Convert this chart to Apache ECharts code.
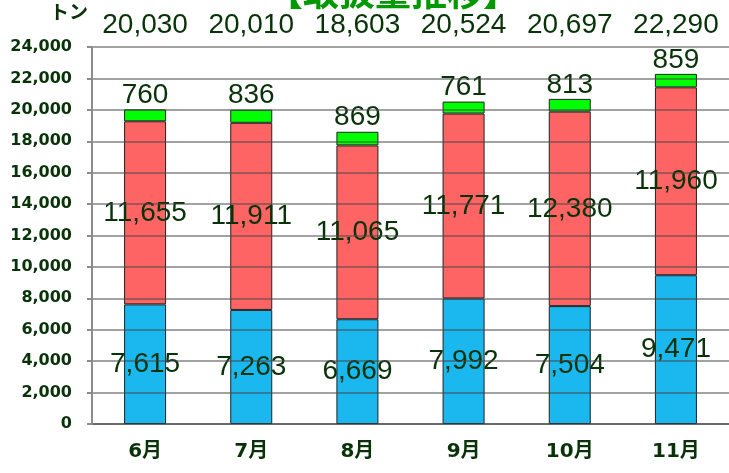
<!DOCTYPE html>
<html>
<head>
<meta charset="utf-8">
<script src="https://cdn.jsdelivr.net/npm/echarts@6/dist/echarts.min.js"></script>
<style>
  html, body { margin: 0; padding: 0; background: #fff; }
  #chart { width: 729px; height: 473px; }
</style>
</head>
<body>
<div id="chart"></div>
<script>
var months = ['6月', '7月', '8月', '9月', '10月', '11月'];
var blueVals = [7615, 7263, 6669, 7992, 7504, 9471];
var redVals = [11655, 11911, 11065, 11771, 12380, 11960];
var greenVals = [760, 836, 869, 761, 813, 859];
var yTicks = { min: 0, max: 24000, interval: 2000 };

var totals = [];
for (var i = 0; i < months.length; i++) {
  totals.push(blueVals[i] + redVals[i] + greenVals[i]);
}

function fmt(v) {
  return Number(v).toLocaleString('en-US');
}

var labelColor = '#083308';
var numFont = 'Liberation Sans, Arial, sans-serif';

var myChart = echarts.init(document.getElementById('chart'));

function segLabel(pos) {
  return {
    show: true,
    position: pos,
    distance: 0,
    color: labelColor,
    fontSize: 28,
    fontFamily: numFont,
    formatter: function (p) { return fmt(p.value); }
  };
}

var option = {
  animation: false,
  title: {
    text: '【取扱量推移】',
    left: 262,
    top: -31,
    textStyle: {
      color: '#009900',
      fontSize: 36,
      fontWeight: 'bold',
      fontFamily: 'Noto Sans CJK JP'
    }
  },
  graphic: [{
    type: 'text',
    left: 50,
    top: 2,
    style: {
      text: 'トン',
      fill: labelColor,
      font: 'bold 19px "Noto Sans CJK JP"'
    }
  }],
  grid: {
    left: 92,
    right: 0,
    top: 47,
    bottom: 49
  },
  xAxis: [{
    type: 'category',
    data: months,
    axisLine: { lineStyle: { color: '#8c8c8c', width: 2 } },
    axisTick: { length: 7, lineStyle: { color: '#8c8c8c', width: 2 } },
    axisLabel: {
      margin: 18,
      color: labelColor,
      fontSize: 20,
      fontWeight: 'bold',
      fontFamily: 'DejaVu Sans, Noto Sans CJK JP'
    }
  }, {
    type: 'category',
    position: 'top',
    data: totals,
    axisLine: { show: false },
    axisTick: { show: false },
    axisLabel: {
      interval: 0,
      margin: 8,
      color: labelColor,
      fontSize: 28,
      fontFamily: numFont,
      formatter: function (v) { return fmt(v); }
    }
  }],
  yAxis: {
    type: 'value',
    min: yTicks.min,
    max: yTicks.max,
    interval: yTicks.interval,
    z: 5,
    axisLine: { show: true, lineStyle: { color: '#8c8c8c', width: 2 } },
    axisTick: { show: true, length: 5, lineStyle: { color: '#8c8c8c', width: 2 } },
    splitLine: { show: true, lineStyle: { color: 'rgba(70,70,70,0.5)', width: 2 } },
    axisLabel: {
      margin: 20,
      color: labelColor,
      fontSize: 16,
      fontWeight: 'bold',
      fontFamily: 'DejaVu Sans',
      formatter: function (v) { return fmt(v); }
    }
  },
  series: [
    {
      name: 'blue',
      type: 'bar',
      stack: 'total',
      barWidth: 42,
      z: 1,
      data: blueVals,
      itemStyle: { color: '#1ab8ef', borderColor: '#222', borderWidth: 1 },
      label: segLabel('inside')
    },
    {
      name: 'red',
      type: 'bar',
      stack: 'total',
      z: 1,
      data: redVals,
      itemStyle: { color: '#ff6464', borderColor: '#222', borderWidth: 1 },
      label: segLabel('inside')
    },
    {
      name: 'green',
      type: 'bar',
      stack: 'total',
      z: 1,
      data: greenVals,
      itemStyle: { color: '#00ff00', borderColor: '#222', borderWidth: 1 },
      label: segLabel('top')
    }
  ]
};
myChart.setOption(option);
</script>
</body>
</html>
